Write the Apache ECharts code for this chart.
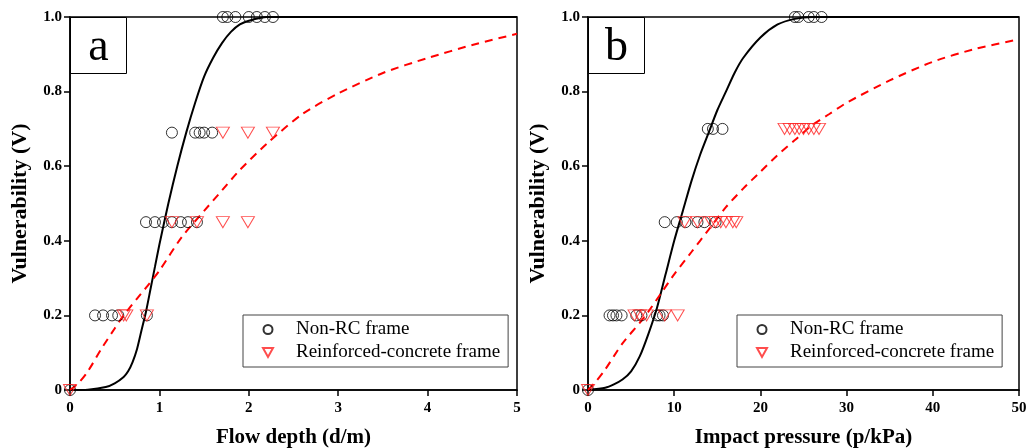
<!DOCTYPE html>
<html>
<head>
<meta charset="utf-8">
<script src="https://cdn.jsdelivr.net/npm/echarts@6/dist/echarts.min.js"></script>
<style>
  html, body { margin: 0; padding: 0; background: #fff; }
  #main { width: 1028px; height: 448px; }
</style>
</head>
<body>
<div id="main"></div>
<script>
// fitted curves
var depthFitNonRcX = [0, 0.2, 0.4, 0.5, 0.6, 0.65, 0.7, 0.75, 0.8, 0.85, 0.9, 0.95, 1.0, 1.1, 1.2, 1.3, 1.4, 1.5, 1.6, 1.7, 1.8, 1.9, 2.0, 2.2, 2.5, 3, 4, 5];
var depthFitNonRcV = [0, 0.001, 0.008, 0.018, 0.035, 0.05, 0.075, 0.11, 0.16, 0.21, 0.27, 0.33, 0.39, 0.5, 0.6, 0.69, 0.77, 0.84, 0.89, 0.93, 0.96, 0.98, 0.99, 1, 1, 1, 1, 1];
var depthFitRcX = [0, 0.1, 0.2, 0.35, 0.5, 0.6, 0.75, 0.87, 1.0, 1.25, 1.5, 1.7, 1.9, 2.2, 2.6, 3, 3.5, 4, 4.5, 5];
var depthFitRcV = [0, 0.02, 0.05, 0.11, 0.165, 0.2, 0.245, 0.28, 0.32, 0.41, 0.48, 0.535, 0.59, 0.66, 0.74, 0.795, 0.85, 0.89, 0.925, 0.955];

var pressFitNonRcX = [0, 2, 3, 4, 5, 6, 7, 8, 9, 10, 11, 12, 13, 14, 15, 16, 17, 18, 20, 22, 24, 26, 30, 50];
var pressFitNonRcV = [0, 0.006, 0.015, 0.028, 0.05, 0.09, 0.15, 0.22, 0.31, 0.4, 0.48, 0.56, 0.63, 0.69, 0.75, 0.8, 0.85, 0.89, 0.945, 0.98, 0.995, 1, 1, 1];
var pressFitRcX = [0, 1, 2, 4, 6, 7, 8.5, 10, 12, 14, 16, 18, 20, 22, 24, 26, 28, 30, 35, 40, 45, 50];
var pressFitRcV = [0, 0.025, 0.055, 0.125, 0.18, 0.21, 0.26, 0.31, 0.37, 0.43, 0.49, 0.54, 0.585, 0.63, 0.67, 0.71, 0.74, 0.77, 0.83, 0.88, 0.915, 0.94];

// observed damage points
var depthNonRcX = [0, 0.28, 0.37, 0.47, 0.54, 0.86, 0.85, 0.95, 1.04, 1.14, 1.24, 1.32, 1.42, 1.14, 1.40, 1.45, 1.50, 1.59, 1.71, 1.76, 1.85, 2.0, 2.09, 2.18, 2.27];
var depthNonRcV = [0, 0.2, 0.2, 0.2, 0.2, 0.2, 0.45, 0.45, 0.45, 0.45, 0.45, 0.45, 0.45, 0.69, 0.69, 0.69, 0.69, 0.69, 1, 1, 1, 1, 1, 1, 1];
var depthRcX = [0, 0.6, 0.63, 0.86, 1.14, 1.42, 1.71, 1.99, 1.71, 1.99, 2.27];
var depthRcV = [0, 0.2, 0.2, 0.2, 0.45, 0.45, 0.45, 0.45, 0.69, 0.69, 0.69];

var pressNonRcX = [0, 2.5, 2.9, 3.3, 3.9, 5.6, 6.2, 8.0, 8.3, 8.7, 8.9, 10.3, 11.3, 12.7, 13.5, 14.8, 13.9, 14.5, 15.6, 24.0, 24.4, 25.6, 26.2, 27.1];
var pressNonRcV = [0, 0.2, 0.2, 0.2, 0.2, 0.2, 0.2, 0.2, 0.2, 0.2, 0.45, 0.45, 0.45, 0.45, 0.45, 0.45, 0.7, 0.7, 0.7, 1, 1, 1, 1, 1];
var pressRcX = [0, 5.4, 6.0, 6.8, 8.9, 10.4, 11.2, 12.7, 14.3, 14.8, 15.4, 16.0, 16.8, 17.2, 22.8, 23.4, 24.0, 24.5, 25.0, 25.6, 26.2, 26.8];
var pressRcV = [0, 0.2, 0.2, 0.2, 0.2, 0.2, 0.45, 0.45, 0.45, 0.45, 0.45, 0.45, 0.45, 0.45, 0.7, 0.7, 0.7, 0.7, 0.7, 0.7, 0.7, 0.7];

function zip(xs, ys) {
    return xs.map(function (x, i) { return [x, ys[i]]; });
}

var serif = 'Liberation Serif';
var downTri = 'path://M0,0 L10,0 L5,9 Z';

function xAxisOf(idx, max, interval, name) {
    return {
        gridIndex: idx, type: 'value', min: 0, max: max, interval: interval,
        name: name, nameLocation: 'middle', nameGap: 37,
        nameTextStyle: { fontFamily: serif, fontWeight: 'bold', fontSize: 21, color: '#000' },
        axisLine: { onZero: false, lineStyle: { color: '#000', width: 1.5 } },
        axisTick: { inside: false, length: 6, lineStyle: { color: '#000', width: 1.5 } },
        axisLabel: { fontFamily: serif, fontWeight: 'bold', fontSize: 15, color: '#000', margin: 11 },
        splitLine: { show: false }
    };
}
function yAxisOf(idx) {
    return {
        gridIndex: idx, type: 'value', min: 0, max: 1, interval: 0.2,
        name: 'Vulnerability (V)', nameLocation: 'middle', nameGap: 39,
        nameTextStyle: { fontFamily: serif, fontWeight: 'bold', fontSize: 22, color: '#000' },
        axisLine: { onZero: false, lineStyle: { color: '#000', width: 1.5 } },
        axisTick: { length: 6, lineStyle: { color: '#000', width: 1.5 } },
        axisLabel: {
            fontFamily: serif, fontWeight: 'bold', fontSize: 15, color: '#000', margin: 8,
            formatter: function (v) { return v === 0 ? '0' : v.toFixed(1); }
        },
        splitLine: { show: false }
    };
}
function curve(idx, data, color, type) {
    return {
        type: 'line', xAxisIndex: idx, yAxisIndex: idx, data: data, smooth: 0.25,
        showSymbol: false, silent: true, z: 2,
        lineStyle: { color: color, width: 2, type: type }
    };
}
function dots(idx, name, data) {
    return {
        type: 'scatter', name: name, xAxisIndex: idx, yAxisIndex: idx, data: data, clip: false, z: 3,
        symbol: 'circle', symbolSize: 11,
        itemStyle: { color: 'rgba(0,0,0,0)', borderColor: '#000', borderWidth: 1 }
    };
}
function tris(idx, name, data) {
    return {
        type: 'scatter', name: name, xAxisIndex: idx, yAxisIndex: idx, data: data, clip: false, z: 4,
        symbol: downTri, symbolSize: [13, 11],
        itemStyle: { color: 'rgba(0,0,0,0)', borderColor: '#ff2020', borderWidth: 1 }
    };
}
function legendAt(left, top) {
    return {
        left: left, top: top, orient: 'vertical',
        data: ['Non-RC frame', 'Reinforced-concrete frame'],
        borderColor: '#444', borderWidth: 1, padding: [5, 8, 5, 19], itemGap: 4,
        itemWidth: 10, itemHeight: 9,
        textStyle: { fontFamily: serif, fontSize: 19, color: '#000', padding: [0, 0, 0, 18] }
    };
}
function panelLabel(x, y, text) {
    return {
        type: 'group', left: x, top: y,
        children: [
            { type: 'rect', shape: { x: 0, y: 0, width: 56, height: 56 },
              style: { fill: '#fff', stroke: '#000', lineWidth: 1 } },
            { type: 'text', x: 28, y: 30,
              style: { text: text, font: '46px "Liberation Serif"', fill: '#000', align: 'center', verticalAlign: 'middle' } }
        ]
    };
}

var myChart = echarts.init(document.getElementById('main'));
var option = {
    animation: false,
    backgroundColor: '#fff',
    grid: [
        { left: 70, right: 511, top: 17, bottom: 58, outerBoundsMode: 'none', show: true, borderColor: '#000', borderWidth: 1.5 },
        { left: 588, right: 9, top: 17, bottom: 58, outerBoundsMode: 'none', show: true, borderColor: '#000', borderWidth: 1.5 }
    ],
    xAxis: [xAxisOf(0, 5, 1, 'Flow depth (d/m)'), xAxisOf(1, 50, 10, 'Impact pressure (p/kPa)')],
    yAxis: [yAxisOf(0), yAxisOf(1)],
    legend: [legendAt(243, 315), legendAt(737, 315)],
    graphic: [panelLabel(70, 17, 'a'), panelLabel(588, 17, 'b')],
    series: [
        curve(0, zip(depthFitNonRcX, depthFitNonRcV), '#000', 'solid'),
        curve(0, zip(depthFitRcX, depthFitRcV), '#ff0000', [8, 6]),
        dots(0, 'Non-RC frame', zip(depthNonRcX, depthNonRcV)),
        tris(0, 'Reinforced-concrete frame', zip(depthRcX, depthRcV)),
        curve(1, zip(pressFitNonRcX, pressFitNonRcV), '#000', 'solid'),
        curve(1, zip(pressFitRcX, pressFitRcV), '#ff0000', [8, 6]),
        dots(1, 'Non-RC frame', zip(pressNonRcX, pressNonRcV)),
        tris(1, 'Reinforced-concrete frame', zip(pressRcX, pressRcV))
    ]
};
myChart.setOption(option);
</script>
</body>
</html>
